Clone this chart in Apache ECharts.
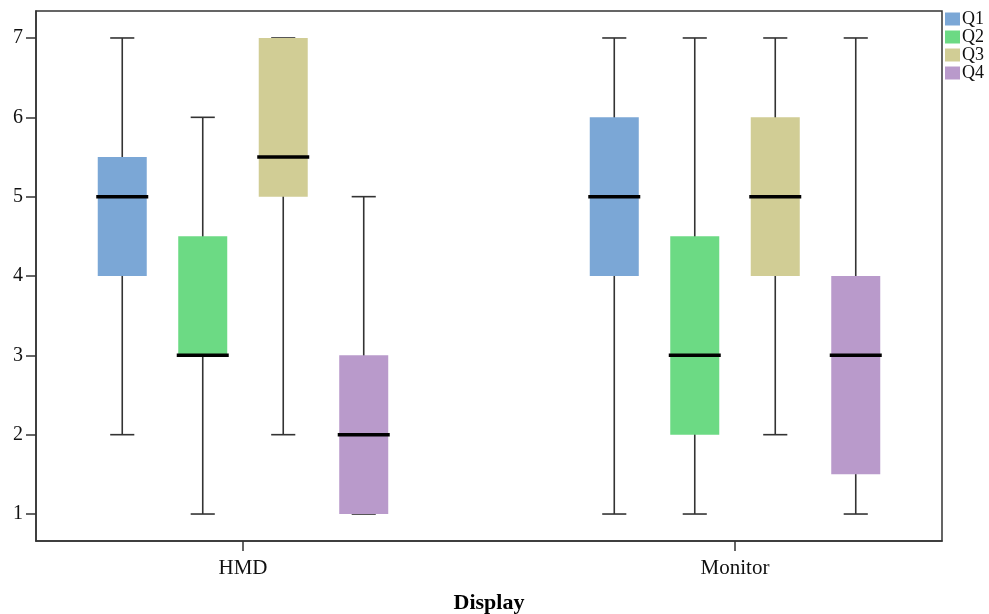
<!DOCTYPE html>
<html>
<head>
<meta charset="utf-8">
<script src="https://cdn.jsdelivr.net/npm/echarts@6/dist/echarts.min.js"></script>
<style>html,body{margin:0;padding:0;background:#fff}#c{width:989px;height:614px}</style>
</head>
<body>
<div id="c"></div>
<script>
const categories = ['HMD', 'Monitor'];
const seriesNames = ['Q1', 'Q2', 'Q3', 'Q4'];
const seriesColors = ['#7ba7d6', '#6cda84', '#d1cd95', '#b99acb'];
// each row: [min, Q1, median, Q3, max] for HMD, Monitor
const q1Stats = [[2, 4, 5, 5.5, 7], [1, 4, 5, 6, 7]];
const q2Stats = [[1, 3, 3, 4.5, 6], [1, 2, 3, 4.5, 7]];
const q3Stats = [[2, 5, 5.5, 7, 7], [2, 4, 5, 6, 7]];
const q4Stats = [[1, 1, 2, 3, 5], [1, 1.5, 3, 4, 7]];
const yTicks = [1, 2, 3, 4, 5, 6, 7];

const allStats = [q1Stats, q2Stats, q3Stats, q4Stats];
const offsets = [-0.2454, -0.0818, 0.0818, 0.2454];
const boxFrac = 0.0996, capFrac = 0.049;
const serif = '"Liberation Serif", "Times New Roman", serif';

function makeRender(si) {
  return function (params, api) {
    const xv = api.value(0);
    const unit = api.size([1, 0])[0];
    const pMin = api.coord([xv, api.value(1)]);
    const pQ1 = api.coord([xv, api.value(2)]);
    const pMed = api.coord([xv, api.value(3)]);
    const pQ3 = api.coord([xv, api.value(4)]);
    const pMax = api.coord([xv, api.value(5)]);
    const cx = pMed[0] + offsets[si] * unit;
    const bw = boxFrac * unit, cw = capFrac * unit;
    const ls = { stroke: '#333', lineWidth: 1.6 };
    return {
      type: 'group',
      children: [
        { type: 'line', shape: { x1: cx, y1: pMin[1], x2: cx, y2: pMax[1] }, style: ls },
        { type: 'line', shape: { x1: cx - cw / 2, y1: pMin[1], x2: cx + cw / 2, y2: pMin[1] }, style: ls },
        { type: 'line', shape: { x1: cx - cw / 2, y1: pMax[1], x2: cx + cw / 2, y2: pMax[1] }, style: ls },
        { type: 'rect', shape: { x: cx - bw / 2, y: pQ3[1], width: bw, height: pQ1[1] - pQ3[1] }, style: { fill: seriesColors[si] } },
        { type: 'line', shape: { x1: cx - bw / 2 - 1.5, y1: pMed[1], x2: cx + bw / 2 + 1.5, y2: pMed[1] }, style: { stroke: '#000', lineWidth: 3.5 } }
      ]
    };
  };
}

const series = seriesNames.map((name, si) => ({
  name: name,
  type: 'custom',
  itemStyle: { color: seriesColors[si] },
  renderItem: makeRender(si),
  encode: { x: 0, y: [1, 2, 3, 4, 5] },
  data: allStats[si].map((s, ci) => [ci].concat(s))
}));

const chart = echarts.init(document.getElementById('c'), null, { renderer: 'canvas' });
chart.setOption({
  animation: false,
  backgroundColor: '#fff',
  grid: { left: 36, right: 47, top: 11, bottom: 73, containLabel: false, outerBoundsMode: 'none', show: true, borderColor: '#333', borderWidth: 1.5 },
  legend: {
    orient: 'vertical', left: 945, top: 10, padding: 0, itemWidth: 15, itemHeight: 13, itemGap: 0,
    icon: 'rect', data: seriesNames,
    textStyle: { fontFamily: serif, fontSize: 18, color: '#111', padding: [2, 0, 0, -3] }
  },
  xAxis: {
    type: 'value', min: -0.4207, max: 1.4207,
    splitLine: { show: false },
    axisLine: { show: true, onZero: false, lineStyle: { color: '#333', width: 1.5 } },
    axisTick: { show: true, customValues: [0, 1], length: 10, lineStyle: { color: '#333', width: 1.5 } },
    axisLabel: {
      customValues: [0, 1], formatter: v => categories[Math.round(v)],
      fontFamily: serif, fontSize: 21, color: '#111', margin: 17
    },
    name: 'Display', nameLocation: 'middle', nameGap: 51,
    nameTextStyle: { fontFamily: serif, fontSize: 22, fontWeight: 'bold', color: '#000' }
  },
  yAxis: {
    type: 'value', min: 0.66, max: 7.34,
    splitLine: { show: false },
    axisLine: { show: true, onZero: false, lineStyle: { color: '#333', width: 1.5 } },
    axisTick: { show: true, customValues: yTicks, length: 10, lineStyle: { color: '#333', width: 1.5 } },
    axisLabel: { customValues: yTicks, fontFamily: serif, fontSize: 20, color: '#111', margin: 13 }
  },
  series: series
});
</script>
</body>
</html>
